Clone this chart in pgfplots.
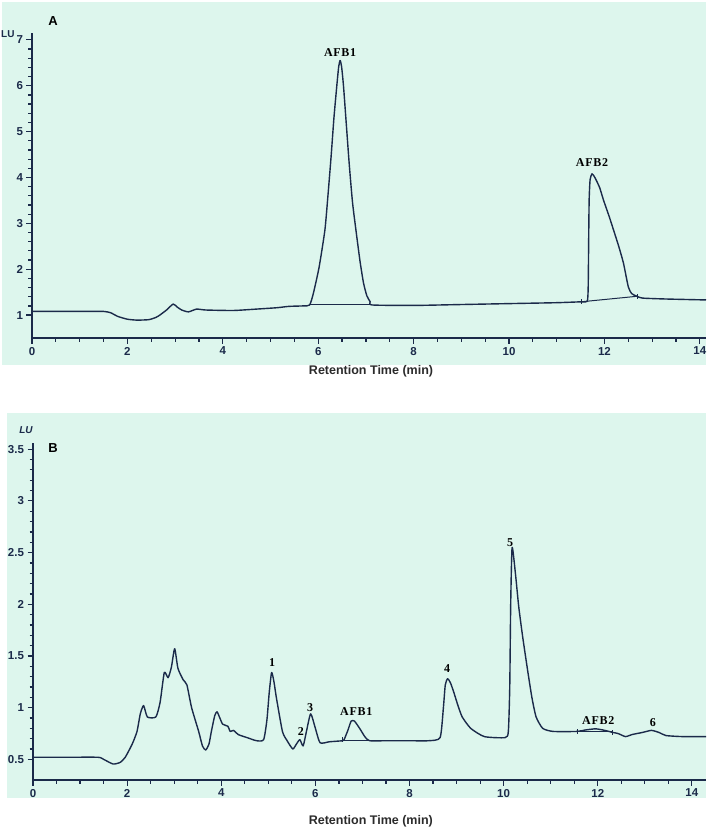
\documentclass[border=0pt]{standalone}
\usepackage{fontspec}
\setmainfont{Liberation Sans}
\newfontfamily\peakfont[LetterSpace=6]{Liberation Serif}
\usepackage{pgfplots}
\pgfplotsset{compat=1.18}
\definecolor{mint}{HTML}{DDF6ED}
\definecolor{ink}{HTML}{1B2A4A}
\definecolor{lab}{HTML}{2B2B2B}

\pgfplotsset{
  trace/.style={ink, line width=1.4pt, no marks, smooth, tension=0.35, line join=round},
  chrom/.style={
    scale only axis, anchor=south west,
    axis lines=left, axis line style={-, line width=1.6pt, ink},
    xmin=0, xtick={0,2,...,14}, minor x tick num=3,
    tick align=outside, major tick length=5.5pt, minor tick length=3.5pt,
    tick style={ink, line width=1.2pt},
    tick label style={font=\fontsize{11.5}{13}\selectfont\bfseries, text=ink},
    /pgf/number format/assume math mode=true,
    xlabel={Retention Time (min)},
    clip=false,
  },
}
\newcommand{\pk}[1]{\fontsize{12}{14}\selectfont\peakfont\bfseries #1}

\begin{document}
\begin{tikzpicture}
\useasboundingbox (0pt,0pt) rectangle (708pt,-833pt);
\fill[mint] (2pt,-2pt) rectangle (706pt,-365pt);
\fill[mint] (7pt,-413pt) rectangle (706pt,-798pt);

% ---- panel A
\begin{axis}[chrom,
    at={(32pt,-338pt)}, width=674pt, height=305pt,
    xmax=14.13, ymin=0.5, ymax=7.15,
    ytick={1,...,7}, minor y tick num=4,
    xlabel style={at={(axis description cs:0.503,0)}, anchor=center, yshift=-33pt,
      font=\fontsize{12.5}{15}\selectfont\bfseries, text=lab},
]
\addplot[trace] coordinates {
 (0,1.08) (0.5,1.08) (1.0,1.08) (1.5,1.08) (1.65,1.05) (1.8,0.97) (2.0,0.91)
 (2.2,0.89) (2.45,0.9) (2.6,0.95) (2.68,1.0) (2.82,1.11) (2.96,1.24) (3.05,1.17)
 (3.14,1.11) (3.28,1.07) (3.45,1.13) (3.65,1.11) (4.22,1.1) (4.7,1.13) (5.13,1.16)
 (5.39,1.19) (5.69,1.2) (5.82,1.22)
 (5.9,1.48) (6.02,2.05) (6.14,2.85) (6.2,3.55) (6.27,4.45) (6.33,5.3) (6.39,6.0)
 (6.43,6.42) (6.46,6.55) (6.49,6.42) (6.53,6.0) (6.59,5.15) (6.65,4.3) (6.72,3.45)
 (6.81,2.7) (6.88,2.15) (6.95,1.7) (7.02,1.42) (7.09,1.29) (7.13,1.22)
 (8,1.21) (9,1.23) (10,1.25) (11.0,1.27) (11.52,1.29) (11.64,1.3)
 (11.66,1.6) (11.67,2.6) (11.68,3.5) (11.7,3.95) (11.74,4.08) (11.8,4.0)
 (11.9,3.78) (11.98,3.51) (12.1,3.15) (12.19,2.86) (12.3,2.5) (12.4,2.13)
 (12.5,1.62) (12.57,1.47) (12.68,1.41) (12.8,1.37) (13.3,1.35) (14.13,1.33)
};
\addplot[ink, line width=1pt] coordinates {(5.82,1.22) (7.13,1.22)};
\addplot[ink, line width=1pt] coordinates {(11.52,1.29) (12.69,1.41)};
\addplot[ink, only marks, mark=|, mark size=2.5pt, line width=1pt] coordinates {(11.52,1.29) (12.69,1.41)};
\node[font=\pk{}] at (axis cs:6.46,6.72) {AFB1};
\node[font=\pk{}] at (axis cs:11.74,4.32) {AFB2};
\end{axis}

% ---- panel B
\begin{axis}[chrom,
    at={(33pt,-780pt)}, width=673pt, height=337pt,
    xmax=14.3, ymin=0.3, ymax=3.56,
    ytick={0.5,1,...,3.5}, minor y tick num=4,
    xlabel style={at={(axis description cs:0.502,0)}, anchor=center, yshift=-41pt,
      font=\fontsize{12.5}{15}\selectfont\bfseries, text=lab},
]
\addplot[trace] coordinates {
 (0,0.52) (0.7,0.52) (1.38,0.52) (1.5,0.5) (1.7,0.455) (1.85,0.47) (1.96,0.52)
 (2.11,0.65) (2.21,0.77) (2.28,0.94) (2.35,1.02) (2.43,0.91) (2.61,0.91)
 (2.7,1.05) (2.79,1.34) (2.87,1.29) (2.94,1.39) (3.01,1.57) (3.08,1.38)
 (3.19,1.27) (3.27,1.22) (3.37,1.0) (3.52,0.77) (3.6,0.63) (3.67,0.59)
 (3.74,0.65) (3.79,0.77) (3.86,0.92) (3.91,0.96) (3.97,0.9) (4.03,0.84)
 (4.14,0.82) (4.19,0.77) (4.26,0.78) (4.36,0.74) (4.55,0.71) (4.75,0.68)
 (4.9,0.69) (4.97,0.88) (5.02,1.15) (5.07,1.34) (5.12,1.25) (5.17,1.1)
 (5.3,0.77) (5.4,0.68) (5.52,0.6) (5.6,0.65) (5.67,0.69) (5.74,0.63)
 (5.81,0.77) (5.9,0.94) (6.0,0.8) (6.1,0.66) (6.3,0.67) (6.58,0.68)
 (6.61,0.69) (6.69,0.78) (6.76,0.87) (6.83,0.87) (6.94,0.8) (7.05,0.72)
 (7.15,0.68) (7.5,0.68) (8.0,0.68) (8.4,0.68) (8.65,0.71) (8.72,1.0)
 (8.76,1.22) (8.81,1.28) (8.87,1.24) (8.94,1.15) (9.03,1.02) (9.12,0.91)
 (9.3,0.8) (9.59,0.72) (10.03,0.71) (10.1,0.77) (10.13,1.2) (10.15,2.0)
 (10.18,2.55) (10.25,2.3) (10.32,1.98) (10.4,1.7) (10.5,1.39) (10.6,1.1)
 (10.69,0.91) (10.83,0.8) (11.05,0.77) (11.56,0.77) (11.75,0.785) (11.96,0.795)
 (12.15,0.78) (12.32,0.76) (12.43,0.75) (12.59,0.72) (12.73,0.74)
 (12.95,0.76) (13.14,0.78) (13.3,0.76) (13.45,0.73) (13.8,0.72) (14.3,0.72)
};
\addplot[ink, line width=1pt] coordinates {(6.58,0.68) (7.17,0.68)};
\addplot[ink, line width=1pt] coordinates {(11.56,0.765) (12.32,0.765)};
\addplot[ink, only marks, mark=|, mark size=2.5pt, line width=1pt] coordinates {(6.58,0.69) (11.56,0.765) (12.32,0.755)};
\node[font=\pk{}] at (axis cs:5.08,1.44) {1};
\node[font=\pk{}] at (axis cs:5.69,0.77) {2};
\node[font=\pk{}] at (axis cs:5.89,1.0) {3};
\node[font=\pk{}] at (axis cs:6.87,0.96) {AFB1};
\node[font=\pk{}] at (axis cs:8.8,1.38) {4};
\node[font=\pk{}] at (axis cs:10.14,2.6) {5};
\node[font=\pk{}] at (axis cs:12.01,0.88) {AFB2};
\node[font=\pk{}] at (axis cs:13.17,0.86) {6};
\end{axis}

\node[font=\fontsize{13}{15}\selectfont\bfseries] at (53pt,-21pt) {A};
\node[font=\fontsize{10}{12}\selectfont\bfseries, text=ink, anchor=west, inner sep=0pt] at (1pt,-34pt) {LU};
\node[font=\fontsize{13}{15}\selectfont\bfseries] at (53pt,-448pt) {B};
\node[font=\fontsize{10}{12}\selectfont\bfseries\itshape, text=ink] at (26pt,-430pt) {LU};
\end{tikzpicture}
\end{document}
